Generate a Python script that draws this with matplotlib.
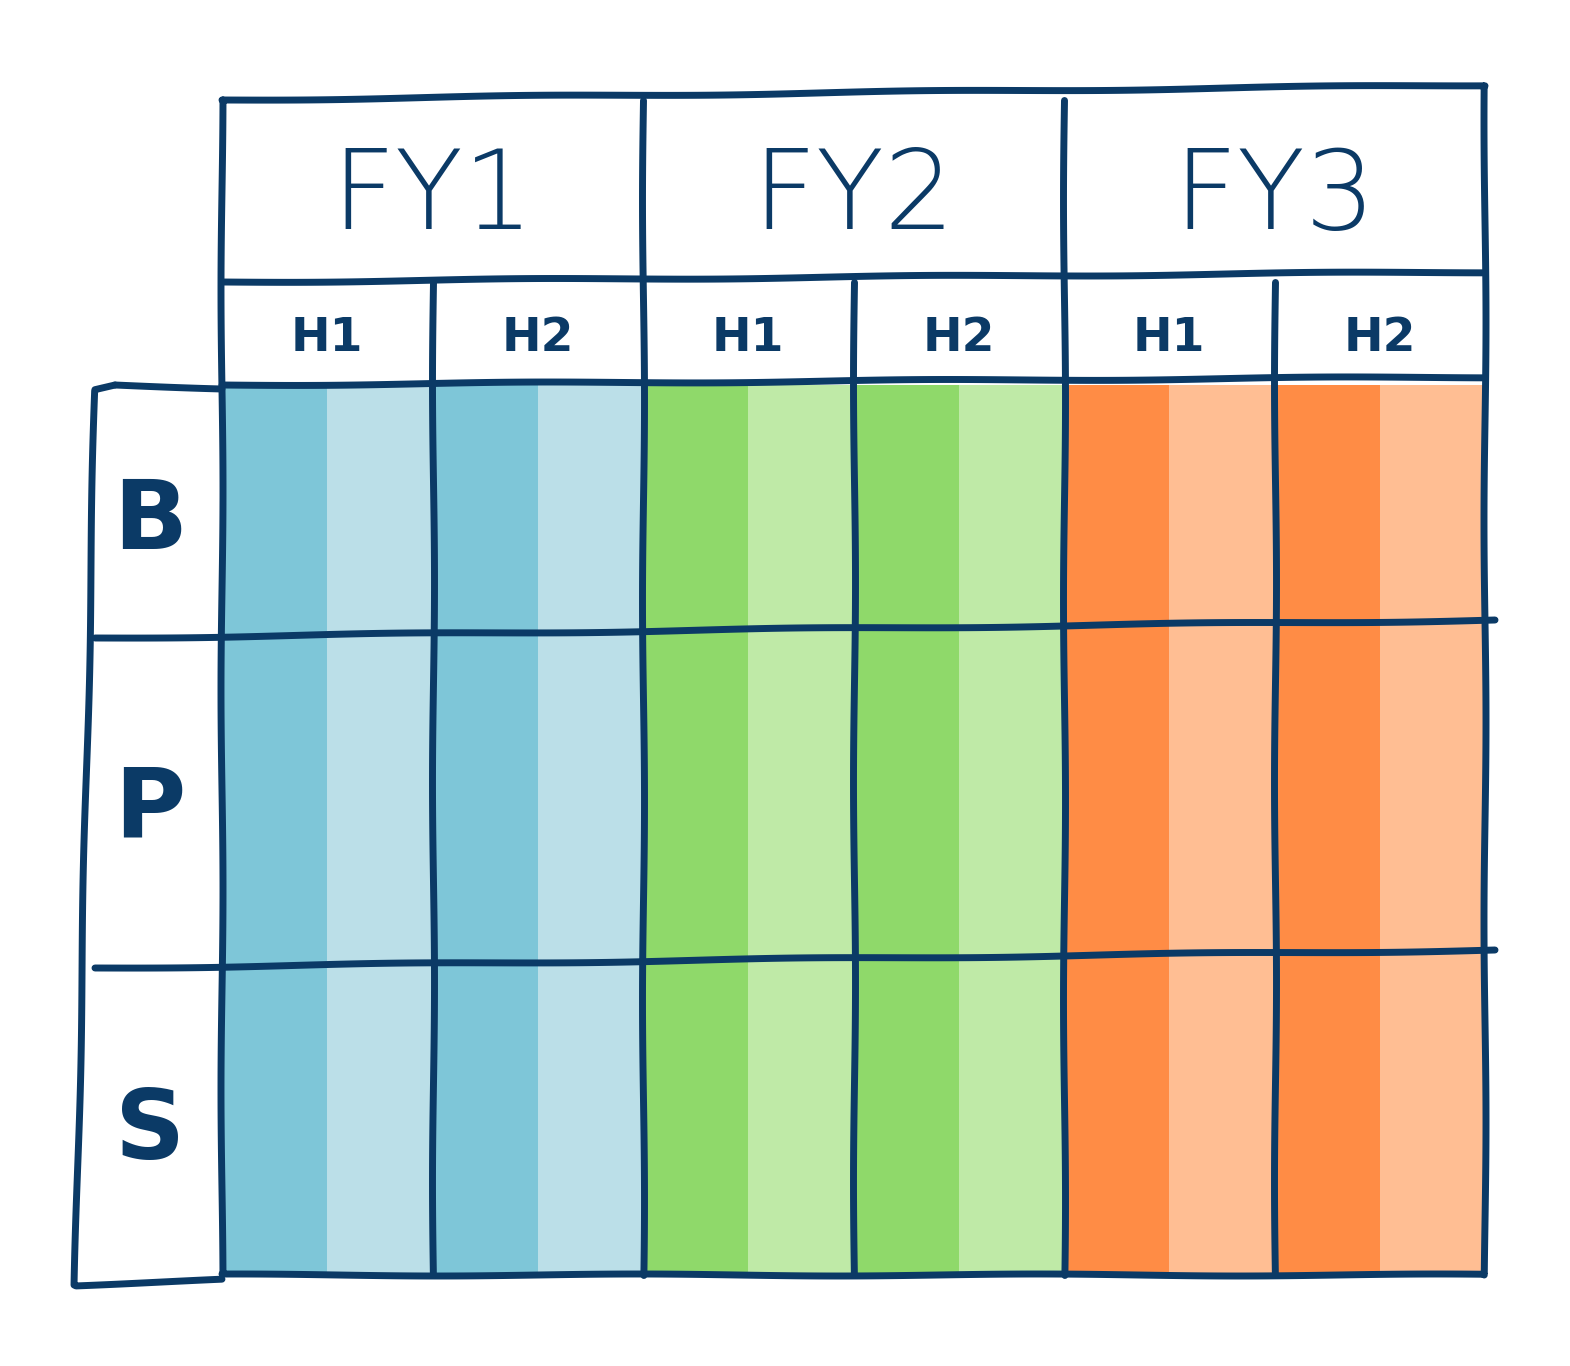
import matplotlib.pyplot as plt
from matplotlib.patches import Rectangle

fiscal_years = ["FY1", "FY2", "FY3"]
halves = ["H1", "H2"]
row_labels = ["B", "P", "S"]
dark_colors = ["#7EC6D8", "#8FD96A", "#FF8C45"]
light_colors = ["#BBDFE8", "#BFEAA7", "#FFBE93"]

LINE = "#0B3A66"
x0, x1 = 222, 1485
row_edges = [385, 630, 960, 1275]
head_top, head_mid = 100, 282
half_w = (x1 - x0) / (len(fiscal_years) * len(halves))

fig = plt.figure(figsize=(15.7, 13.66), dpi=100)
ax = fig.add_axes([0, 0, 1, 1])
ax.set_xlim(0, 1570)
ax.set_ylim(1366, 0)
ax.axis("off")

# coloured stripes
for i, fy in enumerate(fiscal_years):
    for j, h in enumerate(halves):
        left = x0 + (i * len(halves) + j) * half_w
        ax.add_patch(Rectangle((left, row_edges[0]), half_w / 2, row_edges[-1] - row_edges[0],
                               color=dark_colors[i], lw=0))
        ax.add_patch(Rectangle((left + half_w / 2, row_edges[0]), half_w / 2,
                               row_edges[-1] - row_edges[0], color=light_colors[i], lw=0))
        ax.text(left + half_w / 2, (head_mid + row_edges[0]) / 2 + 5, h, ha="center",
                va="center", fontsize=34, fontweight="bold", color=LINE)
    ax.text(x0 + (i + 0.5) * 2 * half_w, (head_top + head_mid) / 2 + 8, fy, ha="center",
            va="center", fontsize=80, fontweight="light", color=LINE)

plt.rcParams["path.sketch"] = (1, 400, 1)
kw = dict(color=LINE, lw=5, solid_capstyle="round")
# outer frame + header lines
ax.plot([x0, x1, x1, x0, x0], [head_top, head_top - 15, row_edges[-1], row_edges[-1], head_top], **kw)
ax.plot([x0, x1], [head_mid, head_mid - 10], **kw)
ax.plot([x0, x1], [row_edges[0], row_edges[0] - 8], **kw)
# column lines
for k in range(1, len(fiscal_years) * len(halves)):
    xx = x0 + k * half_w
    top = head_top if k % 2 == 0 else head_mid
    ax.plot([xx, xx], [top, row_edges[-1]], **kw)
# row lines and label column
lab_x = 95
for y in row_edges[1:-1]:
    ax.plot([lab_x, x1 + 10], [y + 8, y - 10], **kw)
ax.plot([lab_x + 20, lab_x, lab_x - 20, x0], [row_edges[0], row_edges[0] + 5, row_edges[-1] + 10, row_edges[-1] + 5], **kw)
ax.plot([lab_x + 20, x0], [row_edges[0], row_edges[0] + 3], **kw)
for r, lab in enumerate(row_labels):
    yc = (row_edges[r] + row_edges[r + 1]) / 2 + 15
    ax.text(lab_x + 55, yc, lab, ha="center", va="center", fontsize=70, fontweight="bold", color=LINE)

fig.savefig("out.png", dpi=100, facecolor="white")
